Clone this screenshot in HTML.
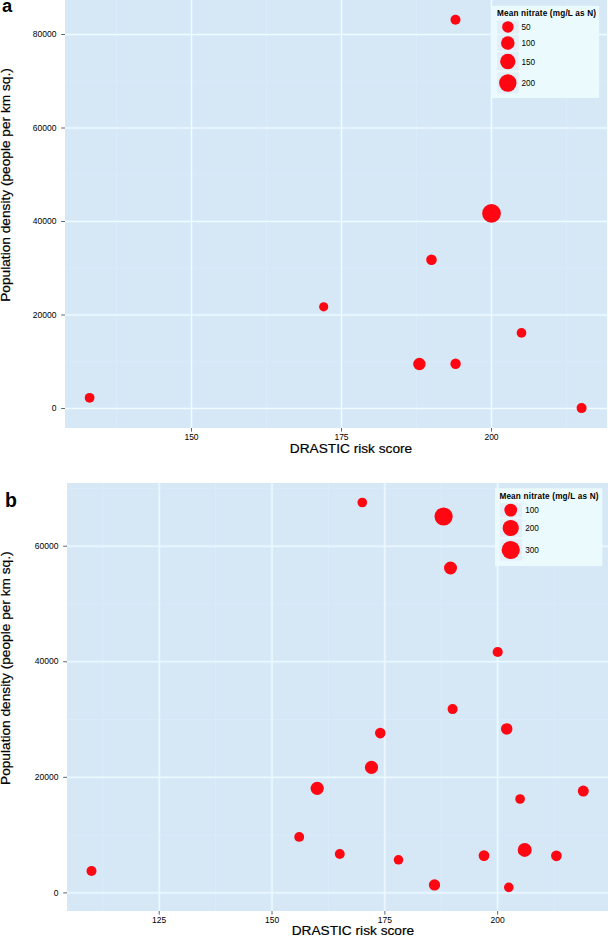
<!DOCTYPE html>
<html><head><meta charset="utf-8"><style>
html,body{margin:0;padding:0;background:#fff;width:608px;height:936px;overflow:hidden}
svg{display:block}
text{font-family:"Liberation Sans",sans-serif;fill:#000}
.tk{font-size:8.5px;fill:#000}
.ll{font-size:8.2px;fill:#000}
.lt{font-size:8.2px;font-weight:bold;letter-spacing:0.18px}
.ttl{font-size:13.7px;stroke:#000;stroke-width:0.2px}
.tag{font-size:19.5px;font-weight:bold}
</style></head><body>
<svg width="608" height="936" viewBox="0 0 608 936">
<rect width="608" height="936" fill="#fff"/>
<rect x="65" y="0" width="542" height="428" fill="rgb(214,231,246)"/>
<rect x="116" y="0" width="1" height="428" fill="rgb(217,236,251)"/>
<rect x="266" y="0" width="1" height="428" fill="rgb(217,236,251)"/>
<rect x="416" y="0" width="1" height="428" fill="rgb(217,236,251)"/>
<rect x="566" y="0" width="1" height="428" fill="rgb(217,236,251)"/>
<rect x="65" y="361.25" width="542" height="1" fill="rgb(217,236,251)"/>
<rect x="65" y="267.75" width="542" height="1" fill="rgb(217,236,251)"/>
<rect x="65" y="174.25" width="542" height="1" fill="rgb(217,236,251)"/>
<rect x="65" y="80.75" width="542" height="1" fill="rgb(217,236,251)"/>
<rect x="190" y="0" width="3" height="428" fill="rgb(218,238,253)"/>
<rect x="340" y="0" width="3" height="428" fill="rgb(218,238,253)"/>
<rect x="490" y="0" width="3" height="428" fill="rgb(218,238,253)"/>
<rect x="65" y="407" width="542" height="3" fill="rgb(218,238,253)"/>
<rect x="65" y="313.5" width="542" height="3" fill="rgb(218,238,253)"/>
<rect x="65" y="220" width="542" height="3" fill="rgb(218,238,253)"/>
<rect x="65" y="126.5" width="542" height="3" fill="rgb(218,238,253)"/>
<rect x="65" y="33" width="542" height="3" fill="rgb(218,238,253)"/>
<rect x="191" y="0" width="1" height="428" fill="rgb(242,251,255)"/>
<rect x="341" y="0" width="1" height="428" fill="rgb(242,251,255)"/>
<rect x="491" y="0" width="1" height="428" fill="rgb(242,251,255)"/>
<rect x="65" y="408" width="542" height="1" fill="rgb(242,251,255)"/>
<rect x="65" y="314.5" width="542" height="1" fill="rgb(242,251,255)"/>
<rect x="65" y="221" width="542" height="1" fill="rgb(242,251,255)"/>
<rect x="65" y="127.5" width="542" height="1" fill="rgb(242,251,255)"/>
<rect x="65" y="34" width="542" height="1" fill="rgb(242,251,255)"/>
<circle cx="455.5" cy="19.7" r="5" fill="#fe0612"/>
<circle cx="491.5" cy="213.4" r="9.35" fill="#fe0612"/>
<circle cx="431.5" cy="259.8" r="5.3" fill="#fe0612"/>
<circle cx="323.7" cy="306.8" r="4.6" fill="#fe0612"/>
<circle cx="521.5" cy="332.9" r="4.85" fill="#fe0612"/>
<circle cx="419.4" cy="364.1" r="6.25" fill="#fe0612"/>
<circle cx="455.6" cy="363.8" r="5.2" fill="#fe0612"/>
<circle cx="89.6" cy="397.8" r="4.88" fill="#fe0612"/>
<circle cx="581.6" cy="408.1" r="5" fill="#fe0612"/>
<rect x="491.2" y="5.8" width="108" height="92.1" fill="rgb(235,251,253)"/>
<text x="497" y="15.8" class="lt">Mean nitrate (mg/L as N)</text>
<rect x="497.1" y="20.7" width="21.6" height="13.3" fill="rgb(226,239,249)"/>
<circle cx="507.9" cy="26.9" r="5.75" fill="#fe0612"/>
<text x="521.5" y="29.9" class="ll">50</text>
<rect x="497.1" y="35" width="21.6" height="15.8" fill="rgb(226,239,249)"/>
<circle cx="507.8" cy="43" r="6.8" fill="#fe0612"/>
<text x="521.5" y="46" class="ll">100</text>
<rect x="497.1" y="52" width="21.6" height="18.4" fill="rgb(226,239,249)"/>
<circle cx="507.8" cy="61.5" r="7.65" fill="#fe0612"/>
<text x="521.5" y="64.5" class="ll">150</text>
<rect x="497.1" y="72.4" width="21.6" height="21" fill="rgb(226,239,249)"/>
<circle cx="507.8" cy="83" r="8.7" fill="#fe0612"/>
<text x="521.5" y="86" class="ll">200</text>
<rect x="61.2" y="408" width="3.8" height="1" fill="#5c6673"/>
<text x="56.5" y="411.2" text-anchor="end" class="tk">0</text>
<rect x="61.2" y="314.5" width="3.8" height="1" fill="#5c6673"/>
<text x="56.5" y="317.7" text-anchor="end" class="tk">20000</text>
<rect x="61.2" y="221" width="3.8" height="1" fill="#5c6673"/>
<text x="56.5" y="224.2" text-anchor="end" class="tk">40000</text>
<rect x="61.2" y="127.5" width="3.8" height="1" fill="#5c6673"/>
<text x="56.5" y="130.7" text-anchor="end" class="tk">60000</text>
<rect x="61.2" y="34" width="3.8" height="1" fill="#5c6673"/>
<text x="56.5" y="37.2" text-anchor="end" class="tk">80000</text>
<rect x="191" y="428" width="1" height="3.6" fill="#5c6673"/>
<text x="191.5" y="439.8" text-anchor="middle" class="tk">150</text>
<rect x="341" y="428" width="1" height="3.6" fill="#5c6673"/>
<text x="341.5" y="439.8" text-anchor="middle" class="tk">175</text>
<rect x="491" y="428" width="1" height="3.6" fill="#5c6673"/>
<text x="491.5" y="439.8" text-anchor="middle" class="tk">200</text>
<text x="2.1" y="11.6" class="tag" style="font-size:18.3px">a</text>
<text x="351" y="453" text-anchor="middle" class="ttl">DRASTIC risk score</text>
<text transform="translate(10.2,185.0) rotate(-90)" text-anchor="middle" class="ttl">Population density (people per km sq.)</text>
<rect x="67" y="483" width="541" height="428" fill="rgb(214,231,246)"/>
<rect x="102.29" y="483" width="1" height="428" fill="rgb(217,236,251)"/>
<rect x="215.11" y="483" width="1" height="428" fill="rgb(217,236,251)"/>
<rect x="327.94" y="483" width="1" height="428" fill="rgb(217,236,251)"/>
<rect x="440.76" y="483" width="1" height="428" fill="rgb(217,236,251)"/>
<rect x="553.59" y="483" width="1" height="428" fill="rgb(217,236,251)"/>
<rect x="67" y="834.62" width="541" height="1" fill="rgb(217,236,251)"/>
<rect x="67" y="719.04" width="541" height="1" fill="rgb(217,236,251)"/>
<rect x="67" y="603.47" width="541" height="1" fill="rgb(217,236,251)"/>
<rect x="67" y="487.91" width="541" height="1" fill="rgb(217,236,251)"/>
<rect x="157.7" y="483" width="3" height="428" fill="rgb(218,238,253)"/>
<rect x="270.52" y="483" width="3" height="428" fill="rgb(218,238,253)"/>
<rect x="383.35" y="483" width="3" height="428" fill="rgb(218,238,253)"/>
<rect x="496.17" y="483" width="3" height="428" fill="rgb(218,238,253)"/>
<rect x="67" y="891.4" width="541" height="3" fill="rgb(218,238,253)"/>
<rect x="67" y="775.83" width="541" height="3" fill="rgb(218,238,253)"/>
<rect x="67" y="660.26" width="541" height="3" fill="rgb(218,238,253)"/>
<rect x="67" y="544.69" width="541" height="3" fill="rgb(218,238,253)"/>
<rect x="158.7" y="483" width="1" height="428" fill="rgb(242,251,255)"/>
<rect x="271.52" y="483" width="1" height="428" fill="rgb(242,251,255)"/>
<rect x="384.35" y="483" width="1" height="428" fill="rgb(242,251,255)"/>
<rect x="497.17" y="483" width="1" height="428" fill="rgb(242,251,255)"/>
<rect x="67" y="892.4" width="541" height="1" fill="rgb(242,251,255)"/>
<rect x="67" y="776.83" width="541" height="1" fill="rgb(242,251,255)"/>
<rect x="67" y="661.26" width="541" height="1" fill="rgb(242,251,255)"/>
<rect x="67" y="545.69" width="541" height="1" fill="rgb(242,251,255)"/>
<circle cx="362.3" cy="502.5" r="4.8" fill="#fe0612"/>
<circle cx="443.6" cy="516.5" r="9.1" fill="#fe0612"/>
<circle cx="450.5" cy="568" r="6.5" fill="#fe0612"/>
<circle cx="497.7" cy="652" r="5.1" fill="#fe0612"/>
<circle cx="452.6" cy="709.1" r="5" fill="#fe0612"/>
<circle cx="506.7" cy="728.9" r="5.75" fill="#fe0612"/>
<circle cx="380.3" cy="733.1" r="5.3" fill="#fe0612"/>
<circle cx="371.5" cy="767.4" r="6.6" fill="#fe0612"/>
<circle cx="317.2" cy="788.3" r="6.6" fill="#fe0612"/>
<circle cx="583.3" cy="791.1" r="5.5" fill="#fe0612"/>
<circle cx="520.1" cy="799" r="4.85" fill="#fe0612"/>
<circle cx="299.2" cy="836.9" r="4.95" fill="#fe0612"/>
<circle cx="339.8" cy="854" r="4.95" fill="#fe0612"/>
<circle cx="524.7" cy="849.9" r="7" fill="#fe0612"/>
<circle cx="556.4" cy="855.8" r="5.35" fill="#fe0612"/>
<circle cx="484" cy="855.6" r="5.35" fill="#fe0612"/>
<circle cx="398.5" cy="859.8" r="4.8" fill="#fe0612"/>
<circle cx="434.5" cy="884.9" r="5.65" fill="#fe0612"/>
<circle cx="508.8" cy="887.4" r="4.8" fill="#fe0612"/>
<circle cx="91.5" cy="871" r="5" fill="#fe0612"/>
<rect x="495" y="488.3" width="107.3" height="77.8" fill="rgb(235,251,253)"/>
<text x="499.4" y="498.8" class="lt">Mean nitrate (mg/L as N)</text>
<rect x="499.75" y="503" width="22.2" height="14.5" fill="rgb(226,239,249)"/>
<circle cx="510.75" cy="510.1" r="6.4" fill="#fe0612"/>
<text x="525.2" y="513.1" class="ll">100</text>
<rect x="499.75" y="519" width="22.2" height="18.2" fill="rgb(226,239,249)"/>
<circle cx="510.75" cy="528" r="8.1" fill="#fe0612"/>
<text x="525.2" y="531" class="ll">200</text>
<rect x="499.75" y="539.2" width="22.2" height="21.3" fill="rgb(226,239,249)"/>
<circle cx="510.75" cy="550" r="9.1" fill="#fe0612"/>
<text x="525.2" y="553" class="ll">300</text>
<rect x="63.2" y="892.4" width="3.8" height="1" fill="#5c6673"/>
<text x="58.5" y="895.6" text-anchor="end" class="tk">0</text>
<rect x="63.2" y="776.83" width="3.8" height="1" fill="#5c6673"/>
<text x="58.5" y="780.03" text-anchor="end" class="tk">20000</text>
<rect x="63.2" y="661.26" width="3.8" height="1" fill="#5c6673"/>
<text x="58.5" y="664.46" text-anchor="end" class="tk">40000</text>
<rect x="63.2" y="545.69" width="3.8" height="1" fill="#5c6673"/>
<text x="58.5" y="548.89" text-anchor="end" class="tk">60000</text>
<rect x="158.7" y="911" width="1" height="3.6" fill="#5c6673"/>
<text x="159.2" y="923.2" text-anchor="middle" class="tk">125</text>
<rect x="271.52" y="911" width="1" height="3.6" fill="#5c6673"/>
<text x="272.02" y="923.2" text-anchor="middle" class="tk">150</text>
<rect x="384.35" y="911" width="1" height="3.6" fill="#5c6673"/>
<text x="384.85" y="923.2" text-anchor="middle" class="tk">175</text>
<rect x="497.17" y="911" width="1" height="3.6" fill="#5c6673"/>
<text x="497.67" y="923.2" text-anchor="middle" class="tk">200</text>
<text x="5" y="507" class="tag">b</text>
<text x="352.9" y="935" text-anchor="middle" class="ttl">DRASTIC risk score</text>
<text transform="translate(10.1,668.2) rotate(-90)" text-anchor="middle" class="ttl">Population density (people per km sq.)</text>
</svg>
</body></html>
